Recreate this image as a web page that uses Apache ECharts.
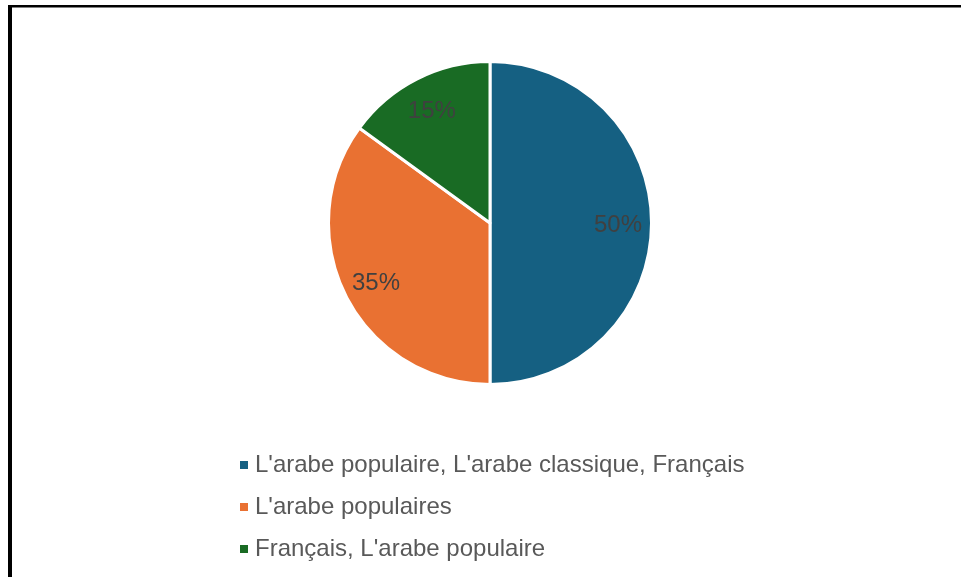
<!DOCTYPE html>
<html>
<head>
<meta charset="utf-8">
<script src="https://cdn.jsdelivr.net/npm/echarts@6/dist/echarts.min.js"></script>
<style>
html,body{margin:0;padding:0;background:#fff;}
#chart{width:961px;height:577px;}
</style>
</head>
<body>
<div id="chart"></div>
<script>
const categories = ["L'arabe populaire, L'arabe classique, Français", "L'arabe populaires", "Français, L'arabe populaire"];
const values = [50, 35, 15];
const colors = ['#156082', '#E97132', '#196B24'];

const chart = echarts.init(document.getElementById('chart'));
const pieData = categories.map((c, i) => ({ name: c, value: values[i], itemStyle: { color: colors[i] } }));
const labelData = categories.map((c, i) => ({ name: c, value: values[i] }));

chart.setOption({
  animation: false,
  backgroundColor: '#ffffff',
  graphic: [
    { type: 'rect', shape: { x: 8, y: 5, width: 4, height: 620 }, style: { fill: '#000' } },
    { type: 'rect', shape: { x: 8, y: 5, width: 1000, height: 2.5 }, style: { fill: '#000' } }
  ],
  legend: {
    orient: 'vertical',
    left: 235,
    top: 447,
    icon: 'rect',
    itemWidth: 8,
    itemHeight: 8,
    itemGap: 16,
    data: categories.map((c, i) => ({ name: c, itemStyle: { color: colors[i], borderWidth: 0 } })),
    textStyle: { fontFamily: 'Liberation Sans, Arial, sans-serif', fontSize: 24, color: '#595959', lineHeight: 26, padding: [0, 0, 0, 2] }
  },
  series: [
    {
      type: 'pie',
      center: [490, 223],
      radius: [0, 161.5],
      startAngle: 90,
      clockwise: true,
      silent: true,
      itemStyle: { borderColor: '#ffffff', borderWidth: 3 },
      label: { show: false },
      labelLine: { show: false },
      data: pieData
    },
    {
      type: 'pie',
      center: [490, 223],
      radius: [93, 157],
      startAngle: 90,
      clockwise: true,
      silent: true,
      itemStyle: { color: 'rgba(0,0,0,0)' },
      label: {
        show: true,
        position: 'inside',
        offset: [0, 2],
        formatter: p => p.value + '%',
        fontFamily: 'Liberation Sans, Arial, sans-serif',
        fontSize: 24,
        color: '#404040'
      },
      labelLine: { show: false },
      data: labelData
    }
  ]
});
</script>
</body>
</html>
